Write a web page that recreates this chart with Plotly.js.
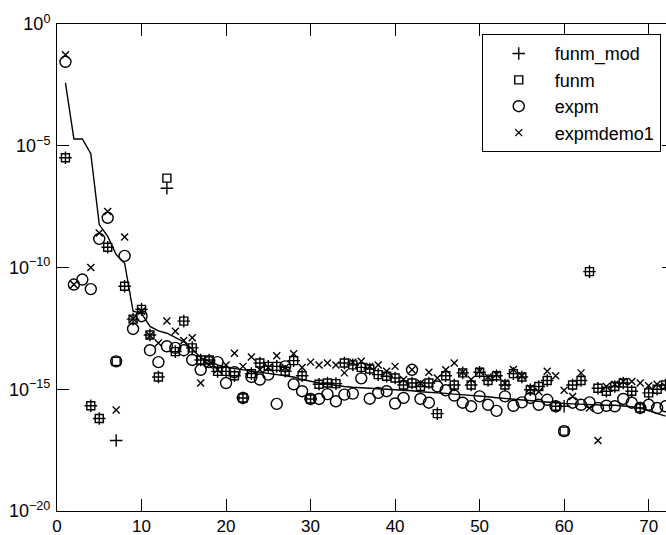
<!DOCTYPE html>
<html><head><meta charset="utf-8">
<script src="https://cdn.plot.ly/plotly-3.0.1.min.js"></script>
<style>html,body{margin:0;padding:0;overflow:hidden;background:#fff}</style>
</head><body>
<div id="chart" style="width:679px;height:535px"></div>
<script>
const xIndex = [1,2,3,4,5,6,7,8,9,10,11,12,13,14,15,16,17,18,19,20,21,22,23,24,25,26,27,28,29,30,31,32,33,34,35,36,37,38,39,40,41,42,43,44,45,46,47,48,49,50,51,52,53,54,55,56,57,58,59,60,61,62,63,64,65,66,67,68,69,70,71,72];

const funmModErr = [3.2e-6,null,null,2.1e-16,6.3e-17,6.8e-10,7.9e-18,1.7e-11,7.6e-13,1.9e-12,
  1.7e-13,3.2e-15,1.8e-7,3.5e-14,6.3e-13,5.0e-14,1.6e-14,1.6e-14,5.4e-15,5.4e-15,
  3.6e-15,4.4e-16,4.4e-15,1.2e-14,8.7e-15,8.7e-15,5.5e-15,1.5e-14,3.6e-15,4.0e-16,
  1.6e-15,1.8e-15,1.7e-15,1.2e-14,1.0e-14,7.9e-15,6.8e-15,4.0e-15,3.4e-15,2.9e-15,
  1.5e-15,1.8e-15,1.3e-15,1.8e-15,1.0e-16,3.6e-15,1.5e-15,4.7e-15,1.5e-15,5.0e-15,
  2.3e-15,3.6e-15,1.5e-15,4.4e-15,3.2e-15,9.5e-16,1.3e-15,2.3e-15,2.0e-16,2.0e-16,
  1.5e-15,2.3e-15,6.8e-11,1.1e-15,8.3e-16,1.3e-15,1.8e-15,8.3e-16,1.7e-16,7.1e-16,
  1.0e-15,1.5e-15];

const funmErr = [3.2e-6,null,null,2.1e-16,6.3e-17,6.8e-10,1.4e-14,1.7e-11,7.6e-13,1.9e-12,
  1.7e-13,3.2e-15,4.7e-7,3.5e-14,6.3e-13,5.0e-14,1.6e-14,1.6e-14,5.4e-15,5.4e-15,
  3.6e-15,4.4e-16,4.4e-15,1.2e-14,8.7e-15,8.7e-15,5.5e-15,1.5e-14,3.6e-15,4.0e-16,
  1.6e-15,1.8e-15,1.7e-15,1.2e-14,1.0e-14,7.9e-15,6.8e-15,4.0e-15,3.4e-15,2.9e-15,
  1.5e-15,1.8e-15,1.3e-15,1.8e-15,1.0e-16,3.6e-15,1.5e-15,4.7e-15,1.5e-15,5.0e-15,
  2.3e-15,3.6e-15,1.5e-15,4.4e-15,3.2e-15,9.5e-16,1.3e-15,2.3e-15,2.0e-16,1.9e-17,
  1.5e-15,2.3e-15,6.8e-11,1.1e-15,8.3e-16,1.3e-15,1.8e-15,8.3e-16,1.7e-16,7.1e-16,
  1.0e-15,1.5e-15];

const expmErr = [2.8e-2,2.0e-11,3.2e-11,1.3e-11,1.5e-9,1.1e-8,1.4e-14,3.0e-10,3.0e-13,1.0e-12,
  4.0e-14,1.3e-14,5.8e-14,5.0e-14,4.0e-14,1.6e-14,6.3e-15,1.3e-14,1.3e-14,1.8e-15,
  5.0e-15,4.4e-16,3.2e-15,2.5e-15,4.0e-15,2.5e-16,8.7e-15,1.6e-15,8.3e-16,4.0e-16,
  4.0e-16,6.3e-16,3.2e-16,6.0e-16,6.6e-16,2.8e-15,4.1e-16,7.1e-16,8.3e-16,2.6e-16,
  4.4e-16,6.3e-15,4.0e-16,2.8e-16,1.3e-15,9.1e-16,5.5e-16,2.8e-16,2.0e-16,5.1e-16,
  2.3e-16,1.3e-16,5.1e-16,2.1e-16,2.9e-16,4.4e-16,2.3e-16,3.7e-16,2.0e-16,1.9e-17,
  2.8e-16,2.3e-16,2.9e-16,1.7e-16,2.1e-16,2.0e-16,4.0e-16,2.8e-16,1.7e-16,2.3e-16,
  1.7e-16,2.0e-16];

const expmdemo1Err = [5.5e-2,2.0e-11,null,1.0e-10,2.6e-9,2.0e-8,1.4e-16,1.8e-9,7.9e-13,1.6e-12,
  1.6e-13,7.9e-14,6.3e-13,2.4e-13,1.0e-13,1.3e-13,1.8e-15,1.0e-14,6.3e-15,1.0e-14,
  3.0e-14,8.7e-15,2.1e-14,6.3e-15,7.9e-15,2.4e-14,7.9e-15,2.9e-14,7.9e-15,1.3e-14,
  1.0e-14,1.2e-14,1.0e-14,4.7e-15,1.3e-14,1.4e-14,8.7e-15,1.0e-14,5.5e-15,8.7e-15,
  2.5e-15,6.3e-15,1.8e-15,5.0e-15,2.9e-15,6.3e-15,1.2e-14,5.0e-15,2.5e-15,5.5e-15,
  3.2e-15,4.0e-15,1.8e-15,6.5e-15,3.5e-15,1.1e-15,7.9e-16,5.5e-15,3.6e-15,9.1e-16,
  5.0e-16,4.7e-15,1.7e-16,7.9e-18,1.3e-15,1.6e-15,2.1e-15,2.1e-15,1.8e-15,1.4e-15,
  1.6e-15,1.3e-15];

const refLine = [3.8e-3,1.9e-5,1.9e-5,4.7e-6,5.8e-9,1.9e-9,3.4e-10,1.5e-10,1.6e-12,1.3e-12,
  3.8e-13,2.5e-13,2.0e-13,1.3e-13,8.9e-14,4.5e-14,2.0e-14,1.4e-14,1.0e-14,7.9e-15,
  7.1e-15,6.3e-15,5.6e-15,5.0e-15,4.5e-15,4.2e-15,3.8e-15,3.2e-15,2.5e-15,2.1e-15,
  1.8e-15,1.6e-15,1.4e-15,1.3e-15,1.2e-15,1.15e-15,1.1e-15,1.05e-15,1.0e-15,9.8e-16,
  9.3e-16,8.7e-16,7.9e-16,7.6e-16,7.2e-16,6.8e-16,6.3e-16,6.0e-16,5.6e-16,5.2e-16,
  4.9e-16,4.5e-16,4.2e-16,3.9e-16,3.5e-16,3.3e-16,3.2e-16,2.9e-16,2.7e-16,2.6e-16,
  2.5e-16,2.4e-16,2.3e-16,2.3e-16,2.2e-16,2.2e-16,2.1e-16,1.9e-16,1.7e-16,1.3e-16,
  1.0e-16,7.9e-17];

const seriesNames = ['funm_mod','funm','expm','expmdemo1'];
const yTickVals = [1e-20,1e-15,1e-10,1e-5,1];
const yTickText = ['10<sup>−20</sup>','10<sup>−15</sup>','10<sup>−10</sup>','10<sup>−5</sup>','10<sup>0</sup>'];
const xTickVals = [0,10,20,30,40,50,60,70];

const FONT = 'Liberation Sans, Arial, Helvetica, sans-serif';

const traces = [
  {x: xIndex, y: refLine, type: 'scatter', mode: 'lines', showlegend: false,
   line: {color: '#000', width: 1.4}, hoverinfo: 'skip'},
  {x: xIndex, y: funmModErr, name: seriesNames[0], type: 'scatter', mode: 'markers',
   marker: {symbol: 'cross-thin-open', size: 9, color: '#000', line: {color: '#000', width: 1.4}}},
  {x: xIndex, y: funmErr, name: seriesNames[1], type: 'scatter', mode: 'markers',
   marker: {symbol: 'square-open', size: 8, color: '#000', line: {color: '#000', width: 1.4}}},
  {x: xIndex, y: expmErr, name: seriesNames[2], type: 'scatter', mode: 'markers',
   marker: {symbol: 'circle-open', size: 11, color: '#000', line: {color: '#000', width: 1.4}}},
  {x: xIndex, y: expmdemo1Err, name: seriesNames[3], type: 'scatter', mode: 'markers',
   marker: {symbol: 'x-thin-open', size: 7, color: '#000', line: {color: '#000', width: 1.4}}}
];

const layout = {
  width: 679, height: 535,
  margin: {l: 57, r: 5, t: 24, b: 24},
  paper_bgcolor: '#fff', plot_bgcolor: '#fff',
  font: {family: FONT, size: 17, color: '#000'},
  showlegend: true,
  xaxis: {
    range: [0, 73], tickvals: xTickVals, ticktext: xTickVals.map(String),
    showgrid: false, zeroline: false, showline: true, linecolor: '#000', linewidth: 1,
    mirror: 'ticks', ticks: 'inside', ticklen: 12, tickwidth: 1, tickcolor: '#000',
    tickfont: {family: FONT, size: 17, color: '#000'}, ticklabelstandoff: 0
  },
  yaxis: {
    type: 'log', range: [-20, 0], tickmode: 'array', tickvals: yTickVals, ticktext: yTickText,
    showgrid: false, zeroline: false, showline: true, linecolor: '#000', linewidth: 1,
    mirror: 'ticks', ticks: 'inside', ticklen: 12, tickwidth: 1, tickcolor: '#000',
    tickfont: {family: FONT, size: 18, color: '#000'}, ticklabelstandoff: 2
  },
  legend: {
    x: 0.6884, y: 0.979, xanchor: 'left', yanchor: 'top',
    bgcolor: '#fff', bordercolor: '#000', borderwidth: 1,
    font: {family: FONT, size: 18, color: '#000'},
    itemwidth: 62, tracegroupgap: 0
  }
};

Plotly.newPlot('chart', traces, layout, {staticPlot: true, displayModeBar: false});
</script>
</body></html>
